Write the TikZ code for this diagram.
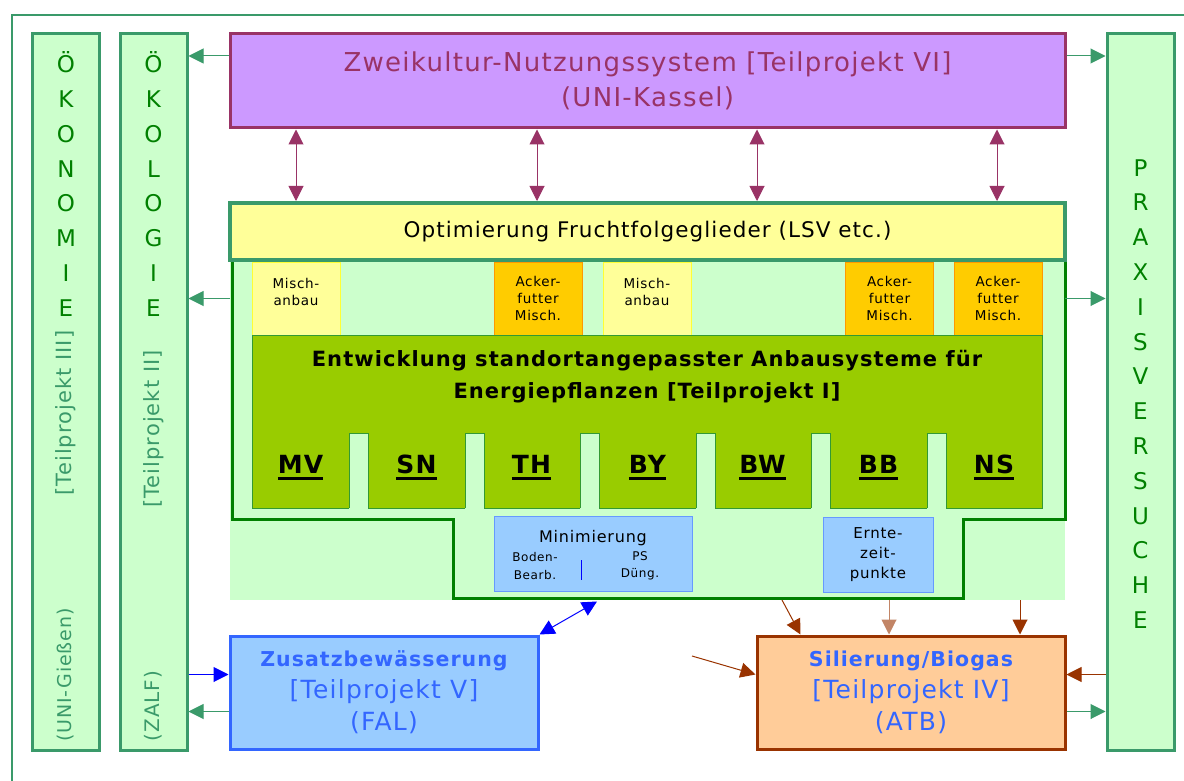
\documentclass[tikz,border=0pt]{standalone}
\usepackage{fontspec}
\setmainfont[LetterSpace=5]{DejaVu Sans}
\usetikzlibrary{arrows.meta,positioning,calc}

\definecolor{rahmen}{HTML}{3A9A6A}
\definecolor{hellgruen}{HTML}{CCFFCC}
\definecolor{textgruen}{HTML}{008000}
\definecolor{lila}{HTML}{CC99FF}
\definecolor{lilarand}{HTML}{993366}
\definecolor{gelb}{HTML}{FFFF99}
\definecolor{gelbrand}{HTML}{FFFF33}
\definecolor{acker}{HTML}{FFCC00}
\definecolor{ackerrand}{HTML}{FF9900}
\definecolor{gras}{HTML}{99CC00}
\definecolor{grasrand}{HTML}{339933}
\definecolor{hellblau}{HTML}{99CCFF}
\definecolor{blaurand}{HTML}{6699FF}
\definecolor{blautext}{HTML}{3366FF}
\definecolor{braun}{HTML}{993300}
\definecolor{pfirsich}{HTML}{FFCC99}

\newcommand\fsz[2]{\fontsize{#1}{#2}\selectfont}
\newcommand\strich[1]{\setbox0\hbox{#1}\rlap{\raisebox{-7pt}{\rule{\wd0}{3pt}}}\box0}

\begin{document}
\begin{tikzpicture}[
    x=1pt, y=-1pt,
    >={Triangle[length=15pt,width=15pt]},
    saeule/.style={rectangle, draw=rahmen, fill=hellgruen, line width=3pt, minimum width=67pt, minimum height=716pt, inner sep=0pt},
    buchst/.style={text=textgruen, font=\fsz{23}{34.8}, align=center, inner sep=0pt},
    dreh/.style={rotate=90, text=rahmen, font=\fsz{21}{22}, inner sep=0pt},
    lilabox/.style={rectangle, draw=lilarand, fill=lila, line width=3pt, minimum width=835pt, minimum height=94pt, text=lilarand, font=\fsz{26}{35}, align=center},
    optbox/.style={rectangle, draw=rahmen, fill=gelb, line width=4pt, minimum width=835pt, minimum height=57pt, font=\fsz{21.5}{22}},
    misch/.style={rectangle, draw=gelbrand, fill=gelb, line width=0.8pt, minimum width=88pt, minimum height=73pt, inner sep=0pt, align=center, font=\fsz{13.5}{16.8}},
    acker/.style={misch, draw=ackerrand, fill=acker},
    gross/.style={rectangle, draw=grasrand, fill=gras, line width=1pt, minimum width=790pt, minimum height=173pt, inner sep=0pt},
    land/.style={font=\bfseries\fsz{25}{30}, inner sep=0pt},
    blaubox/.style={rectangle, draw=blaurand, fill=hellblau, line width=1pt, minimum height=75pt, inner sep=0pt, align=center},
    klein/.style={font=\fsz{12}{17.5}, align=center, inner sep=0pt},
    tpbox/.style={rectangle, line width=3pt, minimum width=308pt, minimum height=113pt, align=center, text=blautext, font=\fsz{25}{32}},
    gpfeil/.style={->, draw=rahmen, line width=1pt},
    ppfeil/.style={<->, draw=lilarand, line width=1pt},
    bpfeil/.style={->, draw=blue, line width=1pt},
    brpfeil/.style={->, draw=braun, line width=1pt},
  ]

  \useasboundingbox (0,0) rectangle (1184,781);
  \clip (0,0) rectangle (1184,781);

  %% ===== RAHMEN + SAEULEN =====
  \draw[rahmen, line width=2.5pt] (12,15) rectangle (1200,800);

  \node[saeule] (oekon)  at (66,392)     {};
  \node[saeule] (oekol)  at (153.5,392)  {};
  \node[saeule] (praxis) at (1140.5,392) {};

  \node[buchst] (oekonB)  at (66,184)     {Ö\\K\\O\\N\\O\\M\\I\\E};
  \node[buchst] (oekolB)  at (153.5,184)  {Ö\\K\\O\\L\\O\\G\\I\\E};
  \node[buchst] (praxisB) at (1140.5,394) {P\\R\\A\\X\\I\\S\\V\\E\\R\\S\\U\\C\\H\\E};

  \node[dreh] (oekonTP)  at (66,413)    {[Teilprojekt III]};
  \node[dreh, font=\fsz{19}{22}] (oekonUNI) at (66,675) {(UNI-Gießen)};
  \node[dreh] (oekolTP)  at (153.5,429) {[Teilprojekt II]};
  \node[dreh, font=\fsz{20}{22}] (oekolZF) at (153.5,706) {(ZALF)};

  %% ===== TEILPROJEKT VI (oben) =====
  \node[lilabox] (zwei) at (647.5,81) {Zweikultur-Nutzungssystem [Teilprojekt VI]\\(UNI-Kassel)};

  %% ===== TEILPROJEKT I (Mitte) =====
  \node[rectangle, fill=hellgruen, inner sep=0pt, minimum width=835pt, minimum height=340pt, anchor=north west] (feld) at (230,260) {};
  \draw[textgruen, line width=3pt] (232,260) -- (232,519) -- (453,519) -- (453,598)
    -- (963,598) -- (963,519) -- (1065,519) -- (1065,260);

  \node[misch] (misch1) at (296,298.5)   {Misch-\\anbau\\[-4pt]};
  \node[acker] (acker1) at (538,298.5)   {Acker-\\futter\\Misch.};
  \node[misch] (misch2) at (647,298.5)   {Misch-\\anbau\\[-4pt]};
  \node[acker] (acker2) at (889.5,298.5) {Acker-\\futter\\Misch.};
  \node[acker] (acker3) at (998,298.5)   {Acker-\\futter\\Misch.};

  \node[gross] (entw) at (647,421.5) {};
  \foreach \kx in {349,465,580,696,811,927} {
    \fill[hellgruen] (\kx,433) rectangle (\kx+19,510);
    \draw[grasrand, line width=1pt] (\kx,508) -- (\kx,433) -- (\kx+19,433) -- (\kx+19,508);
  }
  \node[font=\bfseries\fsz{21}{32}, align=center] (entwT) at (647,377)
    {Entwicklung standortangepasster Anbausysteme für\\Energiepflanzen [Teilprojekt I]};

  \node[land, anchor=base] (mv) at (300.5,473) {\strich{MV}};
  \node[land, anchor=base] (sn) at (416.5,473) {\strich{SN}};
  \node[land, anchor=base] (th) at (531.5,473) {\strich{TH}};
  \node[land, anchor=base] (by) at (647.5,473) {\strich{BY}};
  \node[land, anchor=base] (bw) at (762.5,473) {\strich{BW}};
  \node[land, anchor=base] (bb) at (878.5,473) {\strich{BB}};
  \node[land, anchor=base] (ns) at (994,473)   {\strich{NS}};

  \node[blaubox, minimum width=198pt] (mini) at (593,553.5) {};
  \node[font=\fsz{16}{17}, inner sep=0pt] (miniT) at (593,538) {Minimierung};
  \node[klein] (boden) at (535,566) {Boden-\\Bearb.};
  \node[klein] (ps)    at (640,566) {PS\\Düng.};
  \draw[blue, line width=0.8pt] (581,560) -- (581,580);

  \node[blaubox, minimum width=110pt, font=\fsz{15}{20}] (ernte) at (878,555) {Ernte-\\zeit-\\punkte};

  \node[optbox] (optim) at (647.5,231.5) {Optimierung Fruchtfolgeglieder (LSV etc.)};

  %% ===== TEILPROJEKTE V + IV (unten) =====
  \node[tpbox, draw=blautext, fill=hellblau] (zusatz) at (384,692.5)
    {{\bfseries\fsz{20.5}{32}Zusatzbewässerung}\\{[Teilprojekt V]}\\(FAL)};
  \node[tpbox, draw=braun, fill=pfirsich] (silier) at (911,692.5)
    {{\bfseries\fsz{20.5}{32}Silierung/Biogas}\\{[Teilprojekt IV]}\\(ATB)};

  %% ===== PFEILE =====
  \coordinate (zweiL) at ([yshift=25pt]zwei.west);
  \coordinate (zweiR) at ([yshift=25pt]zwei.east);
  \draw[gpfeil] (zweiL) -- (zweiL -| oekol.east);
  \draw[gpfeil] (zweiR) -- (zweiR -| praxis.west);

  \foreach \px in {296,537,757,997} {
    \coordinate (dp) at (\px,0);
    \draw[ppfeil] (dp |- zwei.south) -- (dp |- optim.north);
  }

  \draw[gpfeil] (misch1 -| feld.west) -- (misch1 -| oekol.east);
  \draw[gpfeil] (misch1 -| feld.east) -- (misch1 -| praxis.west);

  %% Zusatzbewaesserung
  \coordinate (zuB) at ([yshift=18pt]zusatz.west);
  \coordinate (zuG) at ([yshift=-19pt]zusatz.west);
  \draw[bpfeil] (zuB -| oekol.east) -- (zuB);
  \draw[gpfeil] (zuG) -- (zuG -| oekol.east);
  \draw[bpfeil, <->] (zusatz.north east) -- ([xshift=4pt,yshift=-10pt]mini.south);

  %% Silierung
  \coordinate (b1) at (782,600);
  \coordinate (b2) at (889,600);
  \coordinate (b3) at (1020,600);
  \coordinate (frei) at (692,656);
  \draw[brpfeil] (b1) -- ([xshift=45pt]silier.north west);
  \draw[brpfeil, draw=braun!60] (b2) -- (b2 |- silier.north);
  \draw[brpfeil] (b3) -- (b3 |- silier.north);
  \draw[brpfeil] (frei) -- ([yshift=18pt]silier.west);
  \coordinate (siB) at ([yshift=18pt]silier.east);
  \coordinate (siG) at ([yshift=-19pt]silier.east);
  \draw[brpfeil] (siB -| praxis.west) -- (siB);
  \draw[gpfeil] (siG) -- (siG -| praxis.west);

\end{tikzpicture}
\end{document}
